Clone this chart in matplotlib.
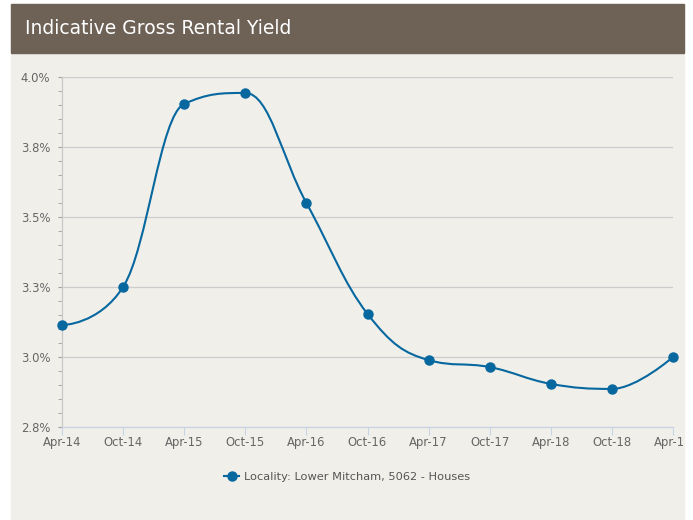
import numpy as np
import matplotlib
matplotlib.use('Agg')
import matplotlib.pyplot as plt
from matplotlib.path import Path
from matplotlib.patches import PathPatch, Rectangle
from matplotlib.lines import Line2D
from matplotlib.transforms import Bbox

# ---- data ----
periods = ['Apr-14', 'Oct-14', 'Apr-15', 'Oct-15', 'Apr-16', 'Oct-16',
           'Apr-17', 'Oct-17', 'Apr-18', 'Oct-18', 'Apr-19']
yield_pct = [3.114, 3.25, 3.904, 3.943, 3.55, 3.154,
             2.989, 2.964, 2.904, 2.886, 3.0]
y_ticks = [2.75, 3.0, 3.25, 3.5, 3.75, 4.0]
y_tick_labels = ['2.8%', '3.0%', '3.3%', '3.5%', '3.8%', '4.0%']
series_name = 'Locality: Lower Mitcham, 5062 - Houses'
title = 'Indicative Gross Rental Yield'

W, H = 693, 520
LINE = '#07679f'
PANEL = '#f0efea'
BAR = '#6e6257'


def spline_path(xs, ys, smoothing=1.5):
    # bezier spline in the style used by the source chart library
    n = len(xs)
    rc = [None] * n
    verts = [(xs[0], ys[0])]
    codes = [Path.MOVETO]
    for i in range(1, n):
        px, py = xs[i], ys[i]
        lx, ly = xs[i - 1], ys[i - 1]
        if i < n - 1:
            nx, ny = xs[i + 1], ys[i + 1]
            d = smoothing + 1
            lcx = (smoothing * px + lx) / d
            lcy = (smoothing * py + ly) / d
            rcx = (smoothing * px + nx) / d
            rcy = (smoothing * py + ny) / d
            corr = (rcy - lcy) * (rcx - px) / (rcx - lcx) + py - rcy
            lcy += corr
            rcy += corr
            if lcy > ly and lcy > py:
                lcy = max(ly, py); rcy = 2 * py - lcy
            elif lcy < ly and lcy < py:
                lcy = min(ly, py); rcy = 2 * py - lcy
            if rcy > ny and rcy > py:
                rcy = max(ny, py); lcy = 2 * py - rcy
            elif rcy < ny and rcy < py:
                rcy = min(ny, py); lcy = 2 * py - rcy
            rc[i] = (rcx, rcy)
        else:
            lcx, lcy = px, py
        c1 = rc[i - 1] if rc[i - 1] is not None else (lx, ly)
        verts += [c1, (lcx, lcy), (px, py)]
        codes += [Path.CURVE4] * 3
    return Path(verts, codes)


fig = plt.figure(figsize=(W / 100, H / 100), dpi=100)
fig.patch.set_facecolor('white')

# panel and title bar (figure pixel coords, origin top-left)
def fx(x):
    return x / W

def fy(y):
    return 1 - y / H

fig.patches.append(Rectangle((fx(11), 0), fx(684) - fx(11), fy(4),
                             transform=fig.transFigure, color=PANEL, zorder=-3))
fig.patches.append(Rectangle((fx(11), fy(53)), fx(684) - fx(11), fy(4) - fy(53),
                             transform=fig.transFigure, color=BAR, zorder=-2))
fig.text(fx(25), fy(29), title, color='white', fontsize=13.5,
         family='DejaVu Sans', va='center', ha='left')

ax = fig.add_axes([fx(62), fy(427), fx(673) - fx(62), fy(77) - fy(427)])
ax.set_facecolor('none')
x = np.arange(len(periods))
ax.set_xlim(0, len(periods) - 1)
ax.set_ylim(2.75, 4.0)

ax.add_patch(PathPatch(spline_path(list(x), yield_pct), fill=False,
                       edgecolor=LINE, lw=1.5, zorder=3, clip_on=False))
ax.plot(x, yield_pct, 'o', color=LINE, ms=6.5, zorder=4, clip_on=False)

ax.set_yticks(y_ticks)
ax.set_yticklabels(y_tick_labels)
ax.set_yticks(np.arange(2.75, 4.0001, 0.05), minor=True)
ax.grid(axis='y', color='#cccccc', lw=0.9)
ax.set_axisbelow(True)
ax.set_xticks(x)
ax.set_xticklabels(periods)

for s in ['top', 'right']:
    ax.spines[s].set_visible(False)
ax.spines['left'].set_color('#c8c8c8')
ax.spines['bottom'].set_color('#c8d4e6')
ax.spines['left'].set_linewidth(0.9)
ax.spines['bottom'].set_linewidth(0.9)

ax.tick_params(axis='y', which='major', length=3, color='#a0a0a0', labelsize=8.4,
               labelcolor='#666666', pad=5.5)
ax.tick_params(axis='y', which='minor', length=3, color='#a0a0a0')
ax.tick_params(axis='x', which='major', length=6, color='#c8d4e6', labelsize=8.4,
               labelcolor='#666666', pad=0.5)

# clip the last x label at the panel edge, as in the reference
clip = Bbox.from_extents(0, 0, 684, H)
for lbl in ax.get_xticklabels():
    lbl.set_clip_box(clip)
    lbl.set_clip_on(True)

handle = Line2D([], [], color=LINE, marker='o', ms=6.5, lw=1.5)
fig.legend([handle], [series_name], loc='center', bbox_to_anchor=(fx(347), fy(477)),
           frameon=False, fontsize=8.2, labelcolor='#555555', handlelength=1.3,
           handletextpad=0.4)

fig.savefig('out.png', dpi=100, facecolor=fig.get_facecolor())
